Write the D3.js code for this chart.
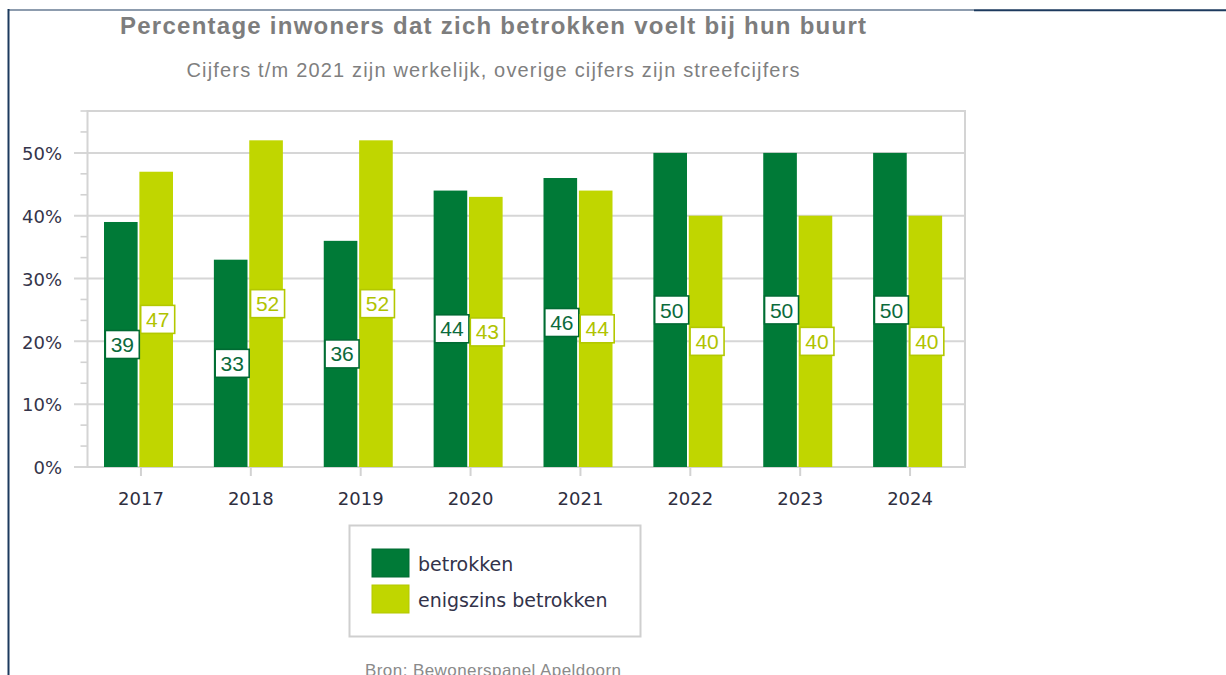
<!DOCTYPE html>
<html>
<head>
<meta charset="utf-8">
<script src="https://cdn.jsdelivr.net/npm/d3@7"></script>
<style>
  body { margin: 0; background: #fff; }
</style>
</head>
<body>
<div id="chart"></div>
<script>
var years = ["2017", "2018", "2019", "2020", "2021", "2022", "2023", "2024"];
var betrokken = [39, 33, 36, 44, 46, 50, 50, 50];
var enigszins = [47, 52, 52, 43, 44, 40, 40, 40];
var seriesNames = ["betrokken", "enigszins betrokken"];
var yTicks = [0, 10, 20, 30, 40, 50];

var width = 1226, height = 675;
var colors = { "betrokken": "#007a37", "enigszins betrokken": "#c0d600" };
var labelStroke = { "betrokken": "#006b33", "enigszins betrokken": "#b3c800" };
var labelText = { "betrokken": "#0b6a3c", "enigszins betrokken": "#b0c300" };

var rows = years.map(function(yr, i) {
    return { year: yr, values: [
        { key: seriesNames[0], value: betrokken[i] },
        { key: seriesNames[1], value: enigszins[i] }
    ] };
});

var svg = d3.select("#chart")
    .append("svg")
    .attr("width", width)
    .attr("height", height);

// frame lines of the screenshot
svg.append("line")
    .attr("x1", 8.5).attr("x2", 8.5).attr("y1", 9).attr("y2", height)
    .attr("stroke", "#1c3a5e").attr("stroke-width", 2);
svg.append("line")
    .attr("x1", 8).attr("x2", 974).attr("y1", 10).attr("y2", 10)
    .attr("stroke", "#1c3a5e").attr("stroke-width", 1.2);
svg.append("line")
    .attr("x1", 974).attr("x2", width).attr("y1", 10.3).attr("y2", 10.3)
    .attr("stroke", "#1c3a5e").attr("stroke-width", 2);

// titles (the original renders a bit wider, so stretch the spacing)
svg.append("text")
    .attr("x", 493).attr("y", 34)
    .attr("text-anchor", "middle")
    .attr("font-family", "Liberation Sans, Arial, sans-serif")
    .attr("font-weight", "bold")
    .attr("font-size", 24)
    .attr("fill", "#7d7d7d")
    .attr("textLength", 746)
    .attr("lengthAdjust", "spacing")
    .text("Percentage inwoners dat zich betrokken voelt bij hun buurt");

svg.append("text")
    .attr("x", 493).attr("y", 77)
    .attr("text-anchor", "middle")
    .attr("font-family", "Liberation Sans, Arial, sans-serif")
    .attr("font-size", 20)
    .attr("fill", "#7f7f7f")
    .attr("textLength", 613)
    .attr("lengthAdjust", "spacing")
    .text("Cijfers t/m 2021 zijn werkelijk, overige cijfers zijn streefcijfers");

// scales
var plotLeft = 87.5, plotRight = 965;
var yMax = 170 / 3;
var y = d3.scaleLinear().domain([0, yMax]).range([467, 111]);
var x0 = d3.scaleBand().domain(years).range([86, plotRight]);
var x1 = d3.scaleBand().domain(seriesNames).range([18, 87]).paddingInner(0.05);

var grid = svg.append("g");

// minor ticks (thirds)
var minor = d3.range(0, yMax + 0.01, 10 / 3).filter(function(v) {
    return Math.abs(v / 10 - Math.round(v / 10)) > 0.01;
});
grid.selectAll(".minor")
    .data(minor)
    .enter()
    .append("line")
    .attr("x1", 80.5).attr("x2", plotLeft)
    .attr("y1", function(d) { return y(d); })
    .attr("y2", function(d) { return y(d); })
    .attr("stroke", "#d2d2d2").attr("stroke-width", 1.6);

// major gridlines
grid.selectAll(".major")
    .data(yTicks)
    .enter()
    .append("line")
    .attr("x1", 74).attr("x2", plotRight)
    .attr("y1", function(d) { return y(d); })
    .attr("y2", function(d) { return y(d); })
    .attr("stroke", "#d6d6d6").attr("stroke-width", 2);

// plot border
svg.append("rect")
    .attr("x", plotLeft).attr("y", y(yMax))
    .attr("width", plotRight - plotLeft)
    .attr("height", y(0) - y(yMax))
    .attr("fill", "none")
    .attr("stroke", "#d4d4d4").attr("stroke-width", 2);

// y labels
svg.selectAll(".ylab")
    .data(yTicks)
    .enter()
    .append("text")
    .attr("x", 62)
    .attr("y", function(d) { return y(d); })
    .attr("dy", "0.4em")
    .attr("text-anchor", "end")
    .attr("font-family", "DejaVu Sans, Verdana, sans-serif")
    .attr("font-size", 18)
    .attr("fill", "#34344a")
    .text(function(d) { return d + "%"; });

// x ticks and labels
var xg = svg.selectAll(".xcat")
    .data(years)
    .enter()
    .append("g")
    .attr("transform", function(d) {
        return "translate(" + (x0(d) + x0.bandwidth() / 2) + ",0)";
    });
xg.append("line")
    .attr("y1", y(0)).attr("y2", y(0) + 9)
    .attr("stroke", "#d2d2d2").attr("stroke-width", 2);
xg.append("text")
    .attr("y", 505)
    .attr("text-anchor", "middle")
    .attr("font-family", "DejaVu Sans, Verdana, sans-serif")
    .attr("font-size", 18)
    .attr("fill", "#2f2f3f")
    .text(function(d) { return d; });

// bars
var groups = svg.selectAll(".grp")
    .data(rows)
    .enter()
    .append("g")
    .attr("transform", function(d) { return "translate(" + x0(d.year) + ",0)"; });

groups.selectAll("rect")
    .data(function(d) { return d.values; })
    .enter()
    .append("rect")
    .attr("x", function(d) { return x1(d.key); })
    .attr("y", function(d) { return y(d.value); })
    .attr("width", x1.bandwidth())
    .attr("height", function(d) { return y(0) - y(d.value); })
    .attr("fill", function(d) { return colors[d.key]; });

// value labels
var labels = groups.selectAll(".lab")
    .data(function(d) { return d.values; })
    .enter()
    .append("g")
    .attr("transform", function(d) {
        return "translate(" + (x1(d.key) + x1.bandwidth() / 2 + 1.5) + "," + y(d.value / 2) + ")";
    });
labels.append("rect")
    .attr("x", -17).attr("y", -14)
    .attr("width", 34).attr("height", 28)
    .attr("fill", "#fff")
    .attr("stroke", function(d) { return labelStroke[d.key]; })
    .attr("stroke-width", 1.6);
labels.append("text")
    .attr("text-anchor", "middle")
    .attr("dy", "0.36em")
    .attr("font-family", "Liberation Sans, Arial, sans-serif")
    .attr("font-size", 21)
    .attr("fill", function(d) { return labelText[d.key]; })
    .text(function(d) { return d.value; });

// legend
svg.append("rect")
    .attr("x", 349.5).attr("y", 525.5)
    .attr("width", 291).attr("height", 111)
    .attr("fill", "#fff")
    .attr("stroke", "#cfcfcf").attr("stroke-width", 2);

var leg = svg.selectAll(".leg")
    .data(seriesNames)
    .enter()
    .append("g")
    .attr("transform", function(d, i) { return "translate(372," + (549 + i * 36) + ")"; });
leg.append("rect")
    .attr("width", 37).attr("height", 28)
    .attr("fill", function(d) { return colors[d]; })
    .attr("stroke", function(d) { return labelStroke[d]; })
    .attr("stroke-width", 1);
leg.append("text")
    .attr("x", 46).attr("y", 22)
    .attr("font-family", "DejaVu Sans, Verdana, sans-serif")
    .attr("font-size", 19)
    .attr("fill", "#33334a")
    .text(function(d) { return d; });

// source (cut off by the bottom edge, as in the original)
svg.append("text")
    .attr("x", 493).attr("y", 676)
    .attr("text-anchor", "middle")
    .attr("font-family", "Liberation Sans, Arial, sans-serif")
    .attr("font-size", 17)
    .attr("fill", "#8a8a8a")
    .attr("textLength", 256)
    .attr("lengthAdjust", "spacing")
    .text("Bron: Bewonerspanel Apeldoorn");
</script>
</body>
</html>
